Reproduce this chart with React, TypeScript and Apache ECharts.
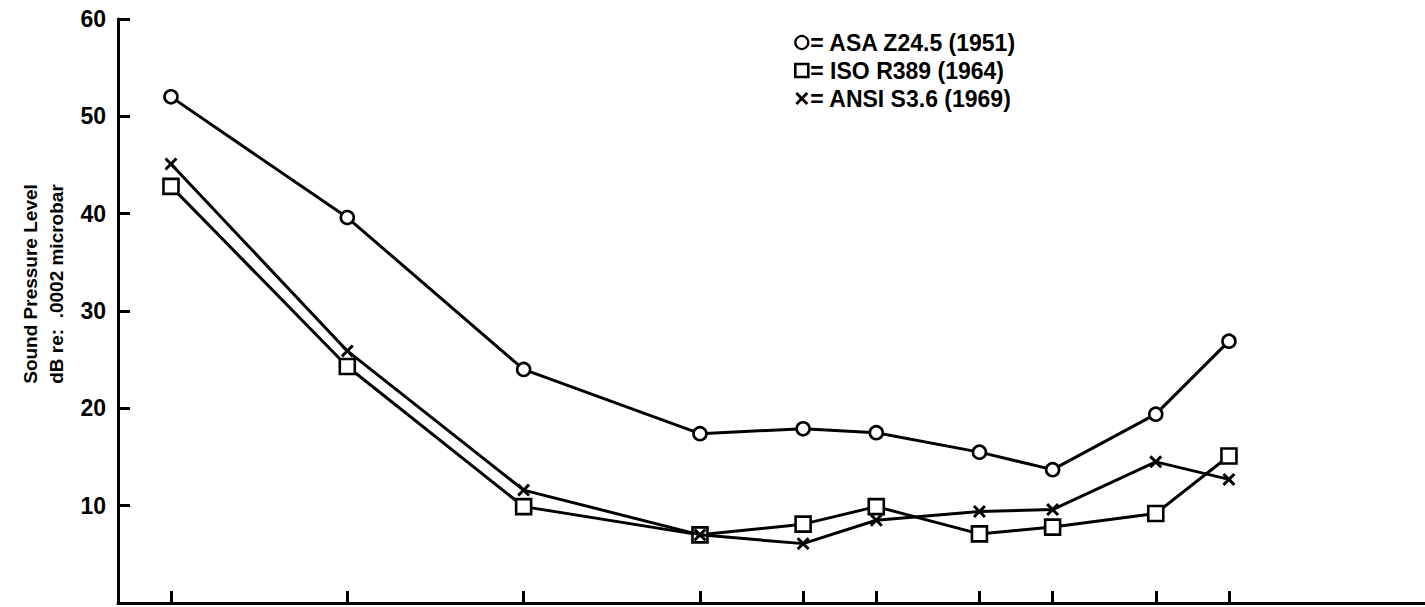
import React, { useEffect, useRef } from "react";
import * as echarts from "echarts";

const frequencies = [125, 250, 500, 1000, 1500, 2000, 3000, 4000, 6000, 8000];
const asa1951 = [52.0, 39.6, 24.0, 17.4, 17.9, 17.5, 15.5, 13.7, 19.4, 26.9];
const iso1964 = [42.8, 24.3, 9.9, 7.0, 8.1, 9.9, 7.1, 7.8, 9.2, 15.1];
const ansi1969 = [45.1, 25.9, 11.6, 7.0, 6.1, 8.5, 9.4, 9.6, 14.5, 12.7];
const yTickValues = [10, 20, 30, 40, 50, 60];
const seriesNames = ["ASA Z24.5 (1951)", "ISO R389 (1964)", "ANSI S3.6 (1969)"];
const yTitleLines = ["Sound Pressure Level", "dB re:  .0002 microbar"];

const FONT = "'Liberation Sans', Arial, Helvetica, sans-serif";
const X_ICON =
  "path://M0,1.6L1.6,0L5,3.4L8.4,0L10,1.6L6.6,5L10,8.4L8.4,10L5,6.6L1.6,10L0,8.4L3.4,5Z";

export default function App() {
  const ref = useRef<HTMLDivElement>(null);
  useEffect(() => {
    if (!ref.current) return;
    const chart = echarts.init(ref.current, undefined, { renderer: "svg" });
    const pair = (vals: number[]) => frequencies.map((f, i) => [f, vals[i]]);
    const lineStyle = { color: "#000", width: 3 };
    const openStyle = { color: "#fff", borderColor: "#000", borderWidth: 2.6 };
    const titleText = (text: string, x: number) => ({
      type: "text",
      x,
      y: 284,
      rotation: Math.PI / 2,
      style: {
        text,
        fontFamily: FONT,
        fontWeight: "bold",
        fontSize: 19,
        fill: "#000",
        align: "center",
        verticalAlign: "middle",
      },
    });
    chart.setOption({
      animation: false,
      backgroundColor: "#fff",
      textStyle: { fontFamily: FONT },
      grid: { left: 118, right: 0, top: 19, bottom: 4, containLabel: false },
      legend: {
        orient: "vertical",
        left: 789,
        top: 26,
        itemGap: 5,
        itemWidth: 13,
        itemHeight: 13,
        selectedMode: false,
        formatter: (name: string) => "= " + name,
        textStyle: { fontFamily: FONT, fontWeight: "bold", fontSize: 23, color: "#000", padding: [0, 0, 0, -3] },
        data: [
          { name: seriesNames[0], icon: "circle", itemStyle: { color: "#fff", borderColor: "#000", borderWidth: 2.2 } },
          { name: seriesNames[1], icon: "rect", itemStyle: { color: "#fff", borderColor: "#000", borderWidth: 2.6 } },
          { name: seriesNames[2], icon: X_ICON, itemStyle: { color: "#000", borderWidth: 0 } },
        ],
      },
      graphic: [titleText(yTitleLines[0], 30), titleText(yTitleLines[1], 56)],
      xAxis: {
        type: "log",
        logBase: 2,
        min: 101.5,
        max: 17290,
        axisLine: { show: true, lineStyle: { color: "#000", width: 3 } },
        axisTick: { show: true, inside: true, length: 12, lineStyle: { color: "#000", width: 3 }, customValues: frequencies },
        axisLabel: { show: false },
        splitLine: { show: false },
        minorTick: { show: false },
      },
      yAxis: {
        type: "value",
        min: 0,
        max: 60,
        interval: 10,
        axisLine: { show: true, lineStyle: { color: "#000", width: 3 } },
        axisTick: { show: true, inside: true, length: 12, lineStyle: { color: "#000", width: 3 }, customValues: yTickValues },
        axisLabel: {
          show: true,
          customValues: yTickValues,
          margin: 12,
          fontFamily: FONT,
          fontWeight: "bold",
          fontSize: 23,
          color: "#000",
        },
        splitLine: { show: false },
      },
      series: [
        {
          name: seriesNames[0],
          type: "line",
          data: pair(asa1951),
          symbol: "circle",
          symbolSize: 13,
          lineStyle,
          itemStyle: { ...openStyle, borderWidth: 2.6 },
          z: 3,
        },
        {
          name: seriesNames[1],
          type: "line",
          data: pair(iso1964),
          symbol: "rect",
          symbolSize: 15,
          lineStyle,
          itemStyle: openStyle,
          z: 4,
        },
        {
          name: seriesNames[2],
          type: "line",
          data: pair(ansi1969),
          symbol: X_ICON,
          symbolSize: 13,
          lineStyle,
          itemStyle: { color: "#000", borderWidth: 0 },
          z: 5,
        },
      ],
    });
    return () => chart.dispose();
  }, []);
  return (
    <div
      ref={ref}
      style={{ position: "fixed", left: 0, top: 0, width: 1425, height: 607, background: "#fff" }}
    />
  );
}
